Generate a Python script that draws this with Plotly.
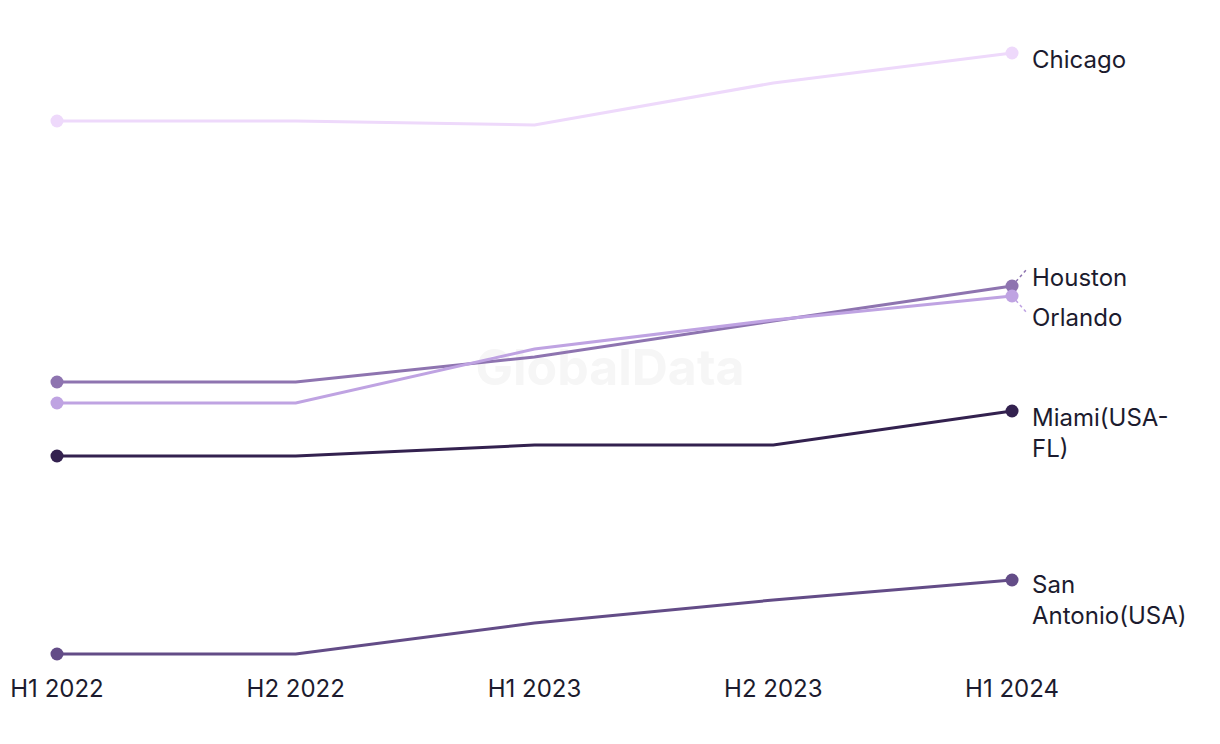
# -*- coding: utf-8 -*-
"""Half-year trend by city, direct-labelled line chart."""
import plotly.graph_objects as go

PERIODS = ["H1 2022", "H2 2022", "H1 2023", "H2 2023", "H1 2024"]

CITIES = ["Chicago", "Houston", "Orlando", "Miami(USA-<br>FL)", "San<br>Antonio(USA)"]
CHICAGO = [579, 579, 575, 617, 647]
HOUSTON = [318, 318, 343, 379, 414]
ORLANDO = [297, 297, 351, 380, 404]
MIAMI = [244, 244, 255, 255, 289]
SAN_ANTONIO = [46, 46, 77, 100, 120]

COLORS = ["#EED9FB", "#8E74B0", "#BFA3E2", "#33214F", "#634C87"]
# label offsets (px) from the last point, and leader line for the close pair
LABEL_SHIFT = [-6, 9, -21, -22, -20]
LEADER = [None, 16, -16, None, None]

TEXT = "#1C1B2E"
FONT = "Inter, Arial, sans-serif"

fig = go.Figure()

# watermark first so the lines sit on top of it
fig.add_trace(go.Scatter(
    x=[2.316], y=[328], mode="text", text=["<b>GlobalData</b>"],
    textfont=dict(family=FONT, size=50, color="#F6F6F6"),
    hoverinfo="skip", showlegend=False,
))

series = [CHICAGO, HOUSTON, ORLANDO, MIAMI, SAN_ANTONIO]
for name, vals, col in zip(CITIES, series, COLORS):
    n = len(vals)
    fig.add_trace(go.Scatter(
        x=list(range(n)), y=vals, mode="lines", name=name,
        line=dict(color=col, width=3),
        hoverinfo="skip", showlegend=False,
    ))
    # dots only at the two ends
    fig.add_trace(go.Scatter(
        x=[0, n - 1], y=[vals[0], vals[-1]], mode="markers",
        marker=dict(color=col, size=13, opacity=1),
        hoverinfo="skip", showlegend=False,
    ))

for name, vals, col, dy, lead in zip(CITIES, series, COLORS, LABEL_SHIFT, LEADER):
    last = len(vals) - 1
    fig.add_annotation(x=last, y=vals[-1], text=name, showarrow=False,
                       xanchor="left", yanchor="middle", align="left",
                       xshift=18, yshift=dy,
                       font=dict(family=FONT, size=24, color=TEXT))
    if lead:
        fig.add_shape(type="line", xref="x", yref="y",
                      xsizemode="pixel", ysizemode="pixel",
                      xanchor=last, yanchor=vals[-1],
                      x0=0, x1=14, y0=0, y1=lead,
                      line=dict(color=col, width=1.5, dash="3px,3px"))

fig.update_layout(
    width=1212, height=736,
    font_family=FONT, font_color=TEXT,
    paper_bgcolor="white", plot_bgcolor="white",
    margin=dict(t=0, b=79, l=0, r=0),
    xaxis=dict(range=[-0.2052, 4.871], tickmode="array",
               tickvals=list(range(len(PERIODS))), ticktext=PERIODS,
               showgrid=False, zeroline=False, showline=False,
               ticks="outside", ticklen=2, tickcolor="white",
               tickfont=dict(size=24, color=TEXT)),
    yaxis=dict(range=[35, 692], visible=False),
)

fig.write_html("out.html")
